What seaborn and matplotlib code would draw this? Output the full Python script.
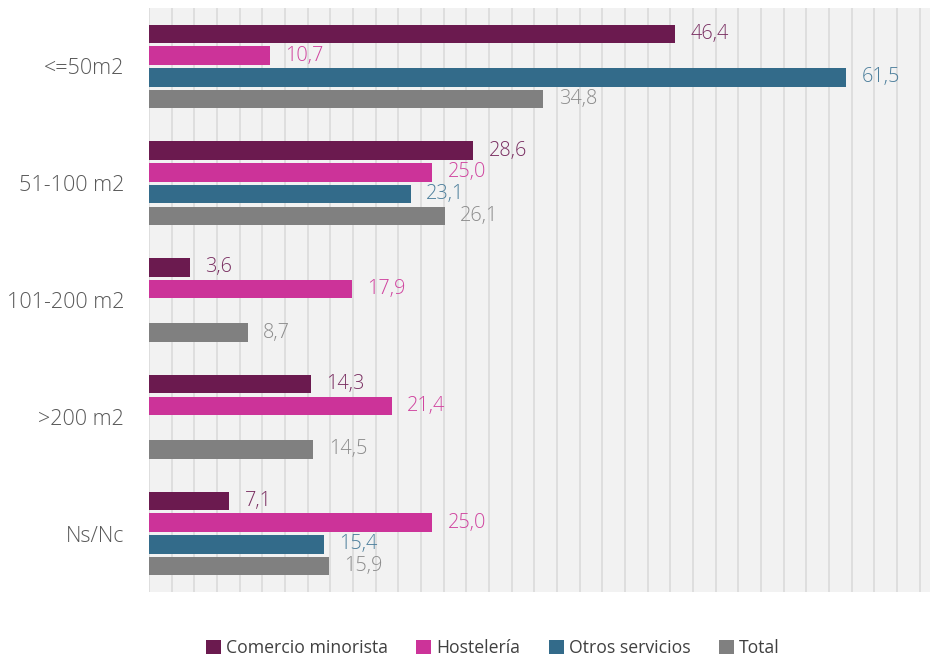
import numpy as np
import pandas as pd
import seaborn as sns
import matplotlib.pyplot as plt
from matplotlib.patches import Patch

# Survey results: share of premises by surface band (%)
categories = ["<=50m2", "51-100 m2", "101-200 m2", ">200 m2", "Ns/Nc"]
series = ["Comercio minorista", "Hostelería", "Otros servicios", "Total"]
comercio = [46.4, 28.6, 3.6, 14.3, 7.1]
hosteleria = [10.7, 25.0, 17.9, 21.4, 25.0]
otros = [61.5, 23.1, np.nan, np.nan, 15.4]
total = [34.8, 26.1, 8.7, 14.5, 15.9]

bar_colors = ["#6B1A4F", "#CC3399", "#336B8A", "#808080"]
label_colors = ["#7A2F62", "#D0449F", "#4D7F9C", "#8C8C8C"]

df = pd.DataFrame({
    "cat": categories * 4,
    "serie": [s for s in series for _ in categories],
    "valor": comercio + hosteleria + otros + total,
})

sns.set_theme(style="white")
plt.rcParams["font.family"] = ["Open Sans", "DejaVu Sans"]

fig = plt.figure(figsize=(9.3, 6.57), dpi=100)
ax = fig.add_axes([149 / 930, 1 - 592 / 657, 1 - 149 / 930, (592 - 8) / 657])
ax.set_facecolor("#F2F2F2")

sns.barplot(data=df, y="cat", x="valor", hue="serie", order=categories,
            hue_order=series, palette=bar_colors, orient="h",
            width=0.745, gap=0.15, saturation=1, ax=ax, legend=False,
            errorbar=None, edgecolor="none")

for cont, col in zip(ax.containers, label_colors):
    labels = ["" if np.isnan(v) else f"{v:.1f}".replace(".", ",")
              for v in cont.datavalues]
    ax.bar_label(cont, labels=labels, padding=11, color=col,
                 fontsize=14.3, fontweight="light")

ax.set_xlim(0, 68.9)
ax.set_ylim(4.5, -0.5)
ax.set_xticks(np.arange(0, 70, 2))
ax.set_xticklabels([])
ax.grid(axis="x", color="#DADADA", linewidth=1.2)
ax.grid(axis="y", visible=False)
ax.set_axisbelow(True)
for sp in ax.spines.values():
    sp.set_visible(False)
ax.tick_params(axis="both", length=0)
ax.tick_params(axis="y", pad=18, labelsize=15.5, labelcolor="#595959")
for t in ax.get_yticklabels():
    t.set_fontweight("light")
ax.set_xlabel("")
ax.set_ylabel("")

handles = [Patch(facecolor=c, edgecolor="none") for c in bar_colors]
fig.legend(handles, series, loc="center", bbox_to_anchor=(0.53, 0.013),
           ncol=4, frameon=False, fontsize=12.7, handlelength=0.85,
           handleheight=0.85, handletextpad=0.3, columnspacing=1.6,
           labelcolor="#404040")

fig.savefig("out.png", dpi=100)
